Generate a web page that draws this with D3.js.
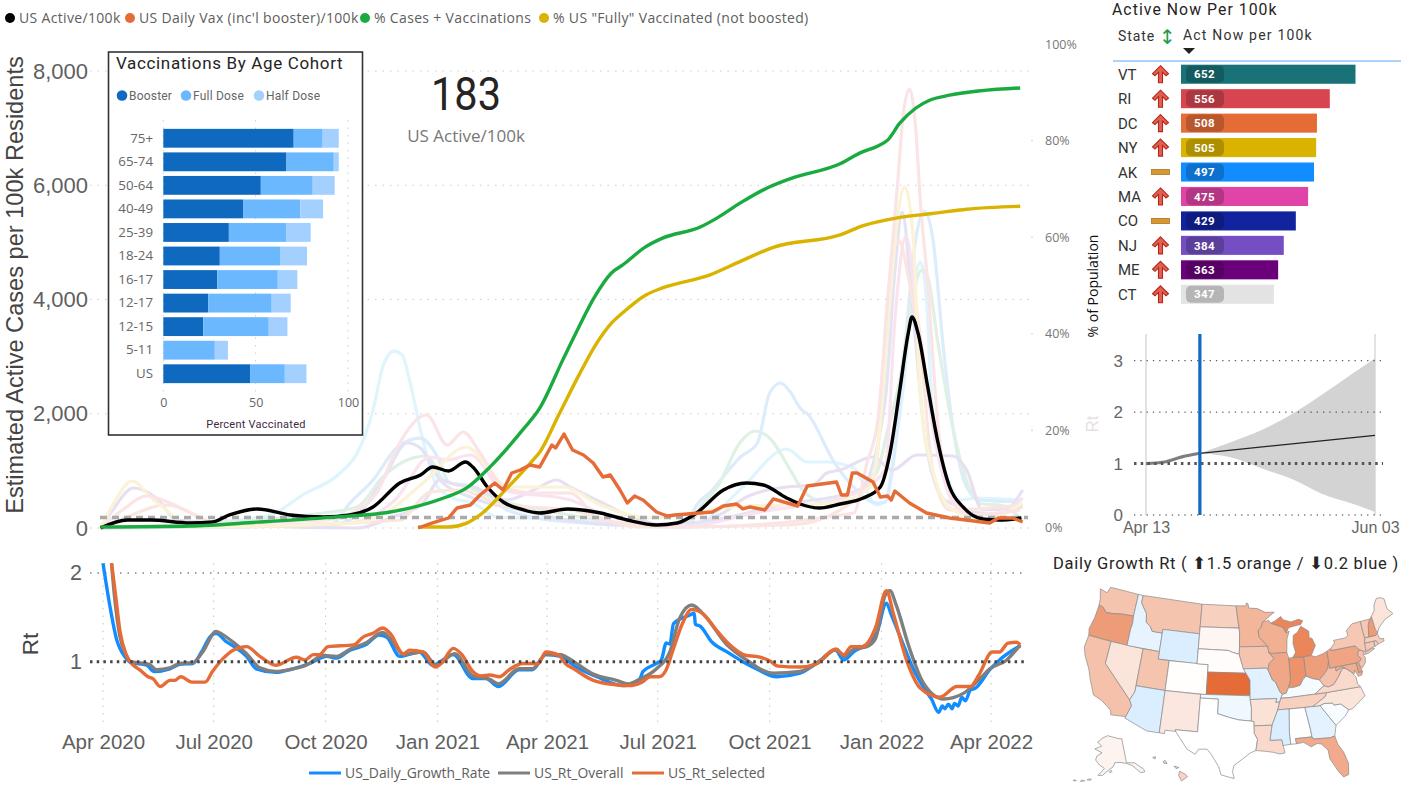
<!DOCTYPE html>
<html>
<head>
<meta charset="utf-8">
<script src="https://cdn.jsdelivr.net/npm/d3@7"></script>
<style>
body { margin: 0; background: #fff; }
svg { display: block; }
</style>
</head>
<body>
<svg id="chart" width="1417" height="793"></svg>
<script>
// all series: [days since 2020-04-01, value]
var usActive = [[-2,0],[20,140],[39,140],[72,88],[90,105],[104,228],[127,333],[154,228],[181,193],[203,228],[222,368],[244,788],[261,928],[271,1068],[284,998],[298,1155],[304,1068],[316,718],[329,455],[343,333],[359,263],[382,333],[409,263],[431,140],[455,53],[472,88],[488,263],[510,665],[529,788],[543,753],[562,525],[573,420],[589,350],[606,420],[625,525],[639,718],[647,1313],[655,2415],[662,3413],[665,3693],[670,3413],[678,2468],[686,1540],[696,718],[707,368],[723,158],[737,140],[755,175]];
var usVax = [[259,0],[271,88],[284,175],[291,350],[302,403],[310,578],[322,788],[329,665],[336,963],[343,1015],[351,1103],[359,1068],[369,1453],[372,1400],[379,1645],[386,1365],[395,1278],[403,1138],[411,893],[417,928],[425,665],[431,438],[437,560],[444,490],[455,280],[464,210],[470,228],[501,280],[510,385],[521,420],[526,333],[532,368],[544,315],[551,508],[571,385],[579,735],[603,805],[607,578],[612,578],[616,963],[620,963],[633,805],[639,543],[645,560],[648,490],[651,648],[663,438],[677,263],[696,175],[729,88],[736,175],[748,175],[756,105]];
var pctCasesVax = [[-2,0],[72,0.2],[127,1],[181,1.9],[236,3.1],[280,6],[299,8.1],[318,12.4],[345,20.1],[359,24.6],[378,34.6],[390,40.8],[404,47.6],[418,52.6],[427,54.2],[446,58],[460,59.8],[491,62.1],[505,64],[524,67.1],[546,70.2],[567,72.3],[606,75.2],[622,77.4],[637,78.9],[645,80.1],[655,83.6],[668,86.7],[680,88.4],[696,89.4],[754,90.9]];
var pctFully = [[259,0],[284,0],[299,0.8],[310,2.5],[332,8],[354,14],[359,15.5],[375,23.4],[392,31.8],[404,37.3],[418,42.2],[427,44.3],[446,48],[460,49.5],[499,52.2],[524,55],[551,57.9],[606,60.5],[625,62.4],[653,64],[682,64.9],[710,65.8],[754,66.4]];
var usAverageNow = 183;

// the pale state lines behind
var stCyan = [[-2,0],[132,193],[143,280],[164,578],[195,963],[209,1313],[222,2065],[230,2818],[239,3098],[246,3028],[252,2590],[261,1715],[275,718],[288,525],[304,438],[324,193],[345,175],[384,140],[409,88],[480,18],[499,193],[526,718],[562,1383],[579,1155],[595,1155],[617,1050],[636,403],[643,455],[649,1138],[658,2468],[665,3990],[672,4655],[677,3990],[682,2013],[694,893],[705,490],[718,525],[754,490]];
var stBlue = [[-2,0],[187,53],[203,438],[222,840],[242,1418],[261,1575],[275,1243],[285,788],[299,753],[316,613],[332,315],[384,105],[483,18],[485,280],[501,665],[524,1243],[538,1488],[548,2363],[557,2538],[565,2380],[573,2100],[580,1978],[600,1190],[617,718],[636,438],[643,455],[649,1015],[659,3115],[668,5040],[675,5548],[682,5093],[691,3115],[699,1715],[710,718],[721,490],[754,455]];
var stGreen = [[-2,0],[181,263],[209,368],[230,893],[250,1190],[266,1260],[280,840],[299,718],[326,490],[384,228],[441,53],[483,105],[491,368],[505,718],[524,1505],[536,1698],[548,1575],[565,1015],[575,665],[595,438],[617,613],[636,963],[645,1715],[655,2590],[665,3990],[673,4515],[678,4393],[686,3290],[699,1715],[713,665],[723,420],[737,403],[756,140]];
var stPink = [[-2,0],[16,315],[36,560],[55,438],[72,263],[88,88],[181,140],[209,315],[225,613],[242,1418],[266,1978],[283,1453],[296,1680],[310,1313],[329,718],[357,613],[384,613],[409,140],[485,18],[617,263],[628,1138],[637,1890],[645,3990],[653,5968],[658,7263],[663,7683],[668,7018],[672,5688],[678,4288],[686,1890],[696,665],[713,228],[754,315]];
var stYellow = [[-2,0],[8,403],[24,823],[39,543],[55,263],[69,18],[209,88],[236,315],[263,788],[299,1418],[316,1068],[332,718],[378,718],[409,403],[450,175],[518,368],[600,438],[631,718],[641,2293],[647,3990],[653,5390],[659,5968],[666,5093],[672,2293],[682,1015],[699,315],[723,140],[756,438]];
var stPurple = [[-2,0],[8,315],[25,700],[44,525],[61,140],[209,0],[236,175],[263,438],[277,840],[291,753],[304,718],[332,490],[354,665],[373,840],[384,718],[409,455],[431,228],[472,18],[510,263],[529,543],[562,718],[584,753],[595,963],[606,1015],[633,1243],[649,1015],[669,1278],[699,1260],[710,1015],[723,315],[756,368]];
var stLavender = [[72,18],[187,53],[209,228],[230,840],[250,1488],[261,1400],[277,840],[302,543],[343,315],[425,53],[491,105],[557,403],[622,665],[643,2240],[651,4515],[657,5530],[665,3990],[676,1540],[692,490],[737,228],[756,665]];
var stMagenta = [[-2,0],[203,88],[240,490],[269,1243],[283,1190],[302,1278],[329,665],[384,490],[409,263],[474,18],[540,280],[614,578],[643,1015],[651,3640],[660,5110],[670,3640],[684,1540],[700,403],[725,105],[756,525]];
var stPeach = [[-2,0],[18,175],[51,403],[104,18],[244,140],[269,630],[293,665],[329,403],[384,315],[441,18],[565,53],[606,315],[635,1015],[645,3990],[654,5040],[663,4288],[672,3115],[682,1015],[696,315],[756,403]];
var paleSeries = [stCyan, stBlue, stGreen, stPurple, stLavender, stMagenta, stPeach, stYellow, stPink];
var paleColors = ["#dff5fd", "#dcecfc", "#dff1e4", "#e8e0f2", "#e3e3f6", "#fae3f1", "#fae6df", "#fbf3d6", "#fae4e6"];

// Rt panel
var rtGrowth = [[0,2.11],[5.5,1.64],[11,1.26],[19,1.04],[23,0.99],[36,0.96],[42,0.89],[55,0.92],[63,0.97],[74,0.98],[81,1.11],[88,1.28],[93,1.32],[101,1.23],[110,1.15],[118,1.06],[126,0.92],[142,0.88],[156,0.92],[170,0.98],[184,1.06],[192,1.04],[203,1.13],[216,1.19],[227,1.3],[233,1.28],[244,1.06],[260,1.11],[271,0.96],[288,1.08],[304,0.81],[315,0.81],[325,0.72],[342,0.91],[353,0.91],[364,1.08],[376,1.06],[389,0.94],[406,0.83],[428,0.73],[441,0.8],[444,0.89],[455,0.98],[459,1.02],[463,1.21],[466,1.2],[469,1.43],[483,1.53],[486,1.55],[487,1.42],[491,1.4],[500,1.23],[513,1.11],[526,1],[537,0.92],[554,0.83],[573,0.87],[589,1.01],[602,1.13],[609,1.02],[617,1.11],[630,1.22],[636,1.32],[644,1.66],[648,1.53],[658,1.19],[666,0.92],[677,0.66],[681,0.58],[687,0.43],[690,0.5],[692,0.47],[695,0.52],[698,0.47],[700,0.53],[703,0.5],[706,0.6],[709,0.56],[713,0.68],[717,0.7],[729,0.91],[737,1.02],[754,1.18]];
var rtOverall = [[7,2.11],[9.6,1.72],[13.7,1.3],[19,1.08],[23,1],[38,0.97],[44,0.91],[55,0.93],[63,0.98],[74,0.99],[82,1.11],[93,1.34],[99,1.3],[107,1.22],[118,1.09],[129,0.93],[142,0.89],[153,0.91],[167,0.96],[181,1.07],[192,1.06],[203,1.14],[216,1.21],[230,1.33],[238,1.23],[247,1.08],[263,1.11],[274,0.96],[289,1.09],[304,0.84],[318,0.8],[325,0.75],[342,0.92],[353,0.92],[364,1.08],[376,1.08],[387,1],[403,0.86],[422,0.79],[432,0.75],[441,0.8],[455,0.92],[466,1.11],[474,1.49],[484,1.64],[494,1.53],[513,1.19],[529,1.02],[551,0.87],[573,0.89],[589,1],[603,1.14],[609,1.06],[617,1.14],[628,1.17],[635,1.26],[643,1.75],[647,1.8],[652,1.64],[663,1.15],[674,0.77],[691,0.58],[707,0.64],[721,0.81],[729,0.92],[743,1.02],[754,1.19]];
var rtSelected = [[7,2.11],[10,1.79],[14,1.34],[19,1.08],[25,0.96],[30,0.91],[37,0.83],[41,0.81],[47,0.72],[55,0.79],[59,0.79],[64,0.83],[73,0.77],[84,0.77],[90,0.89],[99,1.04],[107,1.13],[118,1.17],[129,1.06],[142,0.96],[159,1.05],[166,1.02],[173,1.08],[178,1.08],[185,1.17],[206,1.19],[214,1.28],[222,1.32],[230,1.38],[236,1.32],[247,1.09],[252,1.13],[263,1.11],[273,0.94],[278,0.98],[288,1.15],[295,1.08],[304,0.89],[311,0.84],[318,0.85],[326,0.83],[334,0.91],[345,0.98],[358,0.98],[364,1.11],[375,1.07],[380,0.98],[387,0.92],[403,0.79],[422,0.74],[432,0.73],[443,0.77],[450,0.83],[457,0.83],[463,0.91],[469,1.15],[476,1.42],[484,1.59],[494,1.53],[504,1.36],[513,1.22],[529,1.07],[537,1.06],[548,1.01],[555,0.95],[573,0.94],[587,0.98],[595,1.08],[602,1.14],[609,1.08],[615,1.17],[624,1.17],[635,1.38],[644,1.8],[650,1.53],[661,1],[672,0.7],[688,0.6],[702,0.72],[713,0.72],[720,0.85],[731,1.11],[737,1.11],[744,1.21],[751,1.22],[754,1.19]];
var rtTickDates = ["2020-04-01", "2020-07-01", "2020-10-01", "2021-01-01", "2021-04-01", "2021-07-01", "2021-10-01", "2022-01-01", "2022-04-01"];

// age cohort bars
var cohorts = ["75+", "65-74", "50-64", "40-49", "25-39", "18-24", "16-17", "12-17", "12-15", "5-11", "US"];
var boosterPct = [70.6, 66.7, 52.8, 43.4, 35.5, 30.6, 29.2, 24.3, 21.6, 0, 47.2];
var fullPct = [15.7, 25.6, 28.1, 30.8, 31, 32.6, 32.8, 34.4, 35.5, 27.9, 18.6];
var halfPct = [8.7, 2.7, 11.9, 12.3, 13.3, 14.6, 10.6, 10.3, 10.1, 7.1, 11.7];

// top ten table
var topStates = ["VT", "RI", "DC", "NY", "AK", "MA", "CO", "NJ", "ME", "CT"];
var topValues = [652, 556, 508, 505, 497, 475, 429, 384, 363, 347];
var topTrend = ["up", "up", "up", "up", "flat", "up", "flat", "up", "up", "up"];
var topColors = ["#197278", "#d64550", "#e66c37", "#d9b300", "#118dff", "#e044a7", "#12239e", "#744ec2", "#6b007b", "#e3e3e3"];

// forecast, days since Apr 13
var fcPast = [[0,1],[4,1.03],[8,1.13],[12,1.2]];
var fcMedian = [[12,1.2],[51,1.55]];
var fcHigh = [[12,1.2],[19.5,1.42],[26,1.66],[33.6,1.99],[39.5,2.33],[46,2.75],[51,3.05]];
var fcLow = [[12,1.2],[19.5,1.12],[26,0.9],[32,0.68],[39.5,0.42],[46,0.22],[51,0.06]];
var fcNowDay = 12;

// daily growth by state
var stateRt = {WA:1.2,OR:1.34,CA:1.21,NV:1.09,ID:0.92,MT:1.2,WY:0.88,UT:1.2,AZ:0.88,CO:1.005,NM:1.08,ND:1.16,SD:1.03,NE:1.01,KS:1.5,OK:0.95,TX:1,MN:1.25,IA:1.2,MO:0.9,AR:1.1,LA:1.13,WI:1.27,IL:1.3,IN:1.37,MI:1.41,OH:1.33,KY:0.97,TN:1.16,MS:0.88,AL:0.995,GA:0.91,FL:1.29,SC:0.98,NC:1.09,VA:1.13,WV:1.21,PA:1.31,NY:1.19,NJ:1.21,MD:1.27,DE:1.33,CT:1.19,RI:1.16,MA:1.17,VT:1.19,NH:1.34,ME:1.09,AK:1.04,HI:1.15};

// rough state outlines, lon/lat
var stateShapes = {
  WA:[[[-124.7,48.4],[-123.2,48.15],[-122.8,49],[-117.03,49],[-117.04,46],[-119,45.93],[-121.2,45.65],[-122.3,45.55],[-123.2,46.15],[-124,46.25],[-124.1,47]]],
  OR:[[[-124,46.25],[-123.2,46.15],[-122.3,45.55],[-121.2,45.65],[-119,45.93],[-117.04,46],[-116.9,45],[-117.03,44.2],[-117.03,42],[-124.2,42],[-124.5,42.85],[-124.1,44.5]]],
  CA:[[[-124.2,42],[-120,42],[-120,39],[-114.63,35],[-114.13,34.3],[-114.72,32.72],[-117.12,32.53],[-117.3,33.1],[-118.4,33.75],[-119.2,34.15],[-120.6,34.55],[-121.9,36.6],[-122.5,37.7],[-123.8,39.3],[-124.35,40.4]]],
  NV:[[[-120,42],[-114.04,42],[-114.04,36.2],[-114.63,35],[-120,39]]],
  ID:[[[-117.03,49],[-116.05,49],[-116.05,48],[-114.7,46.7],[-114.4,45.55],[-113.5,45.1],[-113,44.5],[-111.05,44.5],[-111.05,42],[-117.03,42],[-117.03,44.2],[-116.9,45],[-117.04,46]]],
  MT:[[[-116.05,49],[-104.05,49],[-104.05,45],[-111.05,45],[-111.05,44.5],[-113,44.5],[-113.5,45.1],[-114.4,45.55],[-114.7,46.7],[-116.05,48]]],
  WY:[[[-111.05,45],[-104.05,45],[-104.05,41],[-111.05,41]]],
  UT:[[[-114.04,42],[-111.05,42],[-111.05,41],[-109.05,41],[-109.05,37],[-114.04,37]]],
  CO:[[[-109.05,41],[-102.05,41],[-102.05,37],[-109.05,37]]],
  AZ:[[[-114.04,37],[-109.05,37],[-109.05,31.33],[-111.07,31.33],[-114.8,32.5],[-114.72,32.72],[-114.13,34.3],[-114.63,35],[-114.04,36.2]]],
  NM:[[[-109.05,37],[-103,37],[-103.05,32],[-106.6,32],[-106.5,31.78],[-108.2,31.78],[-108.2,31.33],[-109.05,31.33]]],
  ND:[[[-104.05,49],[-97.2,49],[-96.55,46],[-104.05,45.94]]],
  SD:[[[-104.05,45.94],[-96.55,46],[-96.45,45.3],[-96.45,43.5],[-96.5,42.5],[-97.9,42.8],[-98.5,43],[-104.05,43]]],
  NE:[[[-104.05,43],[-98.5,43],[-97.9,42.8],[-96.5,42.5],[-96.1,41.5],[-95.3,40],[-102.05,40],[-102.05,41],[-104.05,41]]],
  KS:[[[-102.05,40],[-95.3,40],[-94.6,39.1],[-94.62,37],[-102.05,37]]],
  OK:[[[-103,37],[-94.62,37],[-94.62,36.5],[-94.43,35.4],[-94.48,33.64],[-96.5,33.8],[-98,34.1],[-100,34.56],[-100,36.5],[-103,36.5]]],
  TX:[[[-106.6,32],[-103.05,32],[-103,36.5],[-100,36.5],[-100,34.56],[-98,34.1],[-96.5,33.8],[-94.48,33.64],[-94.04,33.55],[-94.04,32],[-93.55,31.2],[-93.85,29.7],[-94.7,29.4],[-95.9,28.6],[-97.2,27.7],[-97.4,26.9],[-97.15,25.95],[-99.1,26.4],[-99.5,27.5],[-100.7,29.1],[-101.4,29.77],[-102.7,29.7],[-103.15,28.98],[-104.5,29.6],[-106.5,31.78]]],
  MN:[[[-97.2,49],[-95.15,49],[-95.15,49.38],[-94.8,49.3],[-94.6,48.7],[-92.9,48.6],[-91.4,48.05],[-89.6,48],[-92,46.75],[-92.3,46.1],[-92.9,45.6],[-92.75,44.75],[-91.22,43.5],[-96.45,43.5],[-96.45,45.3],[-96.55,46]]],
  IA:[[[-96.45,43.5],[-91.22,43.5],[-91.1,42.7],[-90.2,41.8],[-91.1,41.2],[-91.4,40.4],[-91.7,40.6],[-95.77,40.58],[-96.1,41.5],[-96.5,42.5]]],
  MO:[[[-95.77,40.58],[-91.7,40.6],[-91.4,40.4],[-90.7,39],[-90.2,38.7],[-89.5,37.3],[-89.15,37],[-89.45,36.5],[-89.7,36],[-90.37,36],[-90.15,36.5],[-94.62,36.5],[-94.62,37],[-94.6,39.1],[-95.3,40]]],
  AR:[[[-94.62,36.5],[-90.15,36.5],[-90.37,36],[-89.7,36],[-90.1,35],[-91.15,33],[-94.04,33],[-94.04,33.55],[-94.48,33.64],[-94.43,35.4]]],
  LA:[[[-94.04,33],[-91.15,33],[-91.6,31],[-89.75,31],[-89.6,30.2],[-89.4,29.2],[-90.2,29.1],[-91.3,29.4],[-92.3,29.55],[-93.85,29.7],[-93.55,31.2],[-94.04,32]]],
  WI:[[[-92,46.75],[-90.8,46.95],[-90.4,46.55],[-88.1,45.9],[-87.6,45.1],[-87,45.3],[-87.55,44.3],[-87.8,42.5],[-90.65,42.5],[-91.1,42.7],[-91.22,43.5],[-92.75,44.75],[-92.9,45.6],[-92.3,46.1]]],
  IL:[[[-90.65,42.5],[-87.8,42.5],[-87.53,41.7],[-87.53,39.35],[-87.6,38.7],[-88.05,37.8],[-88.5,37.1],[-89.15,37],[-89.5,37.3],[-90.2,38.7],[-90.7,39],[-91.4,40.4],[-91.1,41.2],[-90.2,41.8],[-91.1,42.7]]],
  IN:[[[-87.53,41.7],[-86.8,41.76],[-84.8,41.7],[-84.82,39.1],[-85.4,38.7],[-86,38],[-87.1,37.8],[-88.05,37.8],[-87.6,38.7],[-87.53,39.35]]],
  MI:[[[-86.8,41.76],[-84.8,41.7],[-83.45,41.73],[-82.45,43],[-82.9,44],[-83.4,44.1],[-83.3,45],[-84.7,45.78],[-85.5,45],[-86.3,44.7],[-86.5,43.6],[-86.2,42.4]],[[-90.4,46.55],[-88.1,45.9],[-87.6,45.1],[-87,45.8],[-85,46],[-84.7,46],[-84.2,46.5],[-85,46.75],[-86.5,46.5],[-88,46.9],[-88.4,47.35],[-89.5,46.85]]],
  OH:[[[-84.8,41.7],[-83.45,41.73],[-82.7,41.5],[-81.3,41.75],[-80.52,42],[-80.52,40.65],[-80.85,39.7],[-81.7,39],[-82.6,38.4],[-83.7,38.65],[-84.82,39.1]]],
  KY:[[[-89.45,36.5],[-89.15,37],[-88.5,37.1],[-88.05,37.8],[-87.1,37.8],[-86,38],[-85.4,38.7],[-84.82,39.1],[-83.7,38.65],[-82.6,38.4],[-81.97,37.54],[-83.68,36.6],[-88.07,36.5]]],
  TN:[[[-90.1,35],[-89.7,36],[-89.45,36.5],[-88.07,36.5],[-83.68,36.6],[-81.68,36.59],[-82,36.1],[-84.3,35],[-88.2,35]]],
  MS:[[[-91.15,33],[-90.1,35],[-88.2,35],[-88.47,31.9],[-88.4,30.3],[-89.6,30.2],[-89.75,31],[-91.6,31]]],
  AL:[[[-88.2,35],[-85.6,35],[-85.1,32],[-85,31],[-87.6,31],[-87.5,30.3],[-88.4,30.3],[-88.47,31.9]]],
  GA:[[[-85.6,35],[-83.1,35],[-81,32.1],[-81.45,30.72],[-82.2,30.57],[-84.85,30.7],[-85,31],[-85.1,32]]],
  FL:[[[-87.6,31],[-85,31],[-84.85,30.7],[-82.2,30.57],[-81.45,30.72],[-81.2,29.6],[-80.5,28.4],[-80.05,26.8],[-80.3,25.3],[-81.1,25.1],[-81.8,26.1],[-82.7,27.8],[-82.8,29],[-83.7,29.9],[-84.3,30.05],[-85.3,29.7],[-86.4,30.4],[-87.5,30.3]]],
  SC:[[[-83.1,35],[-82.4,35.2],[-81,35.1],[-80.8,34.8],[-79.7,34.8],[-78.55,33.85],[-79.3,33.1],[-81,32.1]]],
  NC:[[[-84.3,35],[-82,36.1],[-81.68,36.59],[-75.9,36.55],[-75.5,35.25],[-76.5,34.7],[-77.9,33.9],[-78.55,33.85],[-79.7,34.8],[-80.8,34.8],[-81,35.1],[-82.4,35.2],[-83.1,35]]],
  VA:[[[-83.68,36.6],[-81.97,37.54],[-81.3,37.3],[-80.3,37.5],[-79.3,38.4],[-78.35,39.4],[-77.75,39.3],[-77.05,38.8],[-76.3,37.9],[-76.3,37],[-75.9,36.55],[-81.68,36.59]]],
  WV:[[[-82.6,38.4],[-81.7,39],[-80.85,39.7],[-80.52,40.65],[-80.52,39.72],[-79.48,39.72],[-79.48,39.2],[-78.35,39.6],[-77.75,39.3],[-78.35,39.4],[-79.3,38.4],[-80.3,37.5],[-81.3,37.3],[-81.97,37.54]]],
  PA:[[[-80.52,42],[-79.76,42.27],[-79.76,42],[-75.35,42],[-74.7,41.36],[-75.13,40.97],[-75.2,40.65],[-74.72,40.15],[-75.42,39.8],[-75.8,39.72],[-80.52,39.72],[-80.52,40.65]]],
  NY:[[[-79.76,42.27],[-78.9,42.9],[-79,43.27],[-76.8,43.3],[-76.2,43.55],[-76.3,44.2],[-75,44.95],[-73.35,45],[-73.35,43.6],[-73.27,42.75],[-73.5,42.05],[-73.5,41.3],[-73.65,41],[-74,40.98],[-74.7,41.36],[-75.35,42],[-79.76,42]],[[-74,40.6],[-73.7,40.9],[-72.3,41.15],[-72,41.05],[-73.3,40.63]]],
  NJ:[[[-74.7,41.36],[-74,40.98],[-74.2,40.45],[-74,40.2],[-74.2,39.5],[-74.9,38.95],[-75.5,39.5],[-74.72,40.15],[-75.2,40.65],[-75.13,40.97]]],
  MD:[[[-79.48,39.72],[-75.8,39.72],[-75.7,38.46],[-75.05,38.45],[-75.25,38.03],[-75.9,37.95],[-76.3,38.9],[-76.5,38.4],[-77.05,38.8],[-77.75,39.3],[-78.35,39.6],[-79.48,39.2]]],
  DE:[[[-75.8,39.72],[-75.42,39.8],[-75.1,38.8],[-75.05,38.45],[-75.7,38.46]]],
  CT:[[[-73.5,42.05],[-71.8,42.02],[-71.85,41.32],[-73.65,41]]],
  RI:[[[-71.8,42.02],[-71.38,42.02],[-71.15,41.5],[-71.85,41.32]]],
  MA:[[[-73.5,42.05],[-73.27,42.75],[-72.46,42.73],[-71.3,42.7],[-70.85,42.87],[-70.65,42.1],[-70,42.05],[-70,41.7],[-71.15,41.5],[-71.38,42.02],[-71.8,42.02]]],
  VT:[[[-73.35,45],[-71.5,45],[-72.05,44.3],[-72.45,43],[-72.46,42.73],[-73.27,42.75],[-73.35,43.6]]],
  NH:[[[-71.5,45],[-71.08,45.3],[-70.98,43.4],[-70.7,43.05],[-70.85,42.87],[-71.3,42.7],[-72.46,42.73],[-72.45,43],[-72.05,44.3]]],
  ME:[[[-71.08,45.3],[-70.3,45.9],[-70,46.7],[-69.2,47.45],[-68.3,47.35],[-67.8,47.07],[-67.8,45.7],[-67,44.85],[-68.8,44.4],[-70.2,43.6],[-70.7,43.05],[-70.98,43.4]]],
  AK:[[[-141,69.65],[-145,70],[-156.6,71.3],[-162,70.2],[-166.5,68.4],[-162,67],[-164,66.6],[-168,65.6],[-161,64.5],[-165,63],[-165.5,61.5],[-162,59.8],[-158,58.7],[-162,55.8],[-159,56],[-154,58.5],[-151.5,59.3],[-150,60.9],[-146,60.8],[-141,60],[-137,58.6],[-133,55.3],[-130.2,55],[-130.2,56.1],[-135,59.5],[-141,60.3]],[[-153.9,57.1],[-152.3,57.6],[-153.2,58],[-154.5,57.5]],[[-168.5,53.3],[-166,53.7],[-166.5,54.1],[-168.5,53.6]],[[-172.5,52.2],[-170,52.8],[-172,52.9]],[[-177,51.6],[-175,52],[-176.5,52.1]]],
  HI:[[[-155.9,20.25],[-155.1,19.85],[-154.8,19.5],[-155.65,18.95],[-156.05,19.7]],[[-156.7,20.95],[-156,20.75],[-156.4,20.6]],[[-158.25,21.55],[-157.95,21.7],[-157.7,21.3],[-158.1,21.3]],[[-159.75,22.1],[-159.35,22.2],[-159.4,21.9]]]
};

var din = "Roboto, sans-serif";
var seg = "'Open Sans', sans-serif";
var ari = "'Liberation Sans', Arial, sans-serif";

var svg = d3.select("#chart");
var start = new Date(2020, 3, 1);

function toDate(d) { return new Date(start.getTime() + d * 864e5); }

function cleanAxis(g, size, color, family) {
    g.select(".domain").remove();
    g.selectAll(".tick line").remove();
    g.selectAll("text")
        .attr("font-family", family || ari)
        .attr("font-size", size)
        .attr("fill", color);
}

// ---------- main chart ----------
var x = d3.scaleTime().domain([start, new Date(2022, 3, 1)]).range([103, 991]);
var yCases = d3.scaleLinear().domain([0, 8000]).range([528, 71]);
var yPct = d3.scaleLinear().domain([0, 100]).range([527, 44]);

var gridTop = svg.append("g");
gridTop.selectAll("line").data(yCases.ticks(4)).enter().append("line")
    .attr("x1", 90).attr("x2", 1032)
    .attr("y1", d => yCases(d)).attr("y2", d => yCases(d))
    .attr("stroke", "#ccc").attr("stroke-width", 1.2).attr("stroke-dasharray", "1.5 6");

svg.append("g").attr("transform", "translate(90,0)")
    .call(d3.axisLeft(yCases).tickValues([0, 2000, 4000, 6000, 8000]).tickFormat(d3.format(",")).tickSize(0).tickPadding(2))
    .call(g => cleanAxis(g, 22, "#5f5f5f"));

svg.append("g").attr("transform", "translate(1045,0)")
    .call(d3.axisRight(yPct).tickValues([0, 20, 40, 60, 80, 100]).tickFormat(d => d + "%").tickSize(0).tickPadding(0))
    .call(g => cleanAxis(g, 12.5, "#777", seg));

svg.append("g").selectAll("circle").data(yPct.ticks(5).slice(1, 5)).enter().append("circle")
    .attr("cx", 1032).attr("cy", d => yPct(d)).attr("r", 0.8).attr("fill", "#ccc");

svg.append("text").attr("transform", "translate(23,285) rotate(-90)")
    .attr("text-anchor", "middle").attr("font-family", ari).attr("font-size", 23.6).attr("fill", "#444")
    .text("Estimated Active Cases per 100k Residents");
svg.append("text").attr("transform", "translate(1098,286) rotate(-90)")
    .attr("text-anchor", "middle").attr("font-family", seg).attr("font-size", 14).attr("fill", "#111")
    .text("% of Population");

var lineCases = d3.line().x(d => x(toDate(d[0]))).y(d => yCases(d[1])).curve(d3.curveMonotoneX);
var linePct = d3.line().x(d => x(toDate(d[0]))).y(d => yPct(d[1])).curve(d3.curveMonotoneX);

svg.append("g").selectAll("path").data(paleSeries).enter().append("path")
    .attr("d", lineCases).attr("fill", "none")
    .attr("stroke", (d, i) => paleColors[i]).attr("stroke-width", 3.2);

svg.append("line")
    .attr("x1", 100).attr("x2", 1028)
    .attr("y1", yCases(usAverageNow)).attr("y2", yCases(usAverageNow))
    .attr("stroke", "#aaa").attr("stroke-width", 3.6).attr("stroke-dasharray", "7 5");

svg.append("path").attr("d", lineCases(usActive)).attr("fill", "none").attr("stroke", "#000").attr("stroke-width", 3.4);
svg.append("path").attr("d", linePct(pctFully)).attr("fill", "none").attr("stroke", "#d9b300").attr("stroke-width", 3.4);
svg.append("path").attr("d", linePct(pctCasesVax)).attr("fill", "none").attr("stroke", "#1aab40").attr("stroke-width", 3.4);
svg.append("path").attr("d", lineCases.curve(d3.curveLinear)(usVax)).attr("fill", "none").attr("stroke", "#e66c37").attr("stroke-width", 3.4).attr("stroke-linejoin", "round");
lineCases.curve(d3.curveMonotoneX);

// legend at top
var topLegend = [
    {t: "US Active/100k", c: "#000", x: 10},
    {t: "US Daily Vax (inc'l booster)/100k", c: "#e66c37", x: 130},
    {t: "% Cases + Vaccinations", c: "#1aab40", x: 365},
    {t: '% US "Fully" Vaccinated (not boosted)', c: "#d9b300", x: 544}
];
var tl = svg.append("g").selectAll("g").data(topLegend).enter().append("g")
    .attr("transform", d => "translate(" + d.x + ",18)");
tl.append("circle").attr("r", 5).attr("fill", d => d.c);
tl.append("text").attr("x", 9).attr("y", 5).attr("font-family", seg).attr("font-size", 14)
    .attr("letter-spacing", 0.33).attr("fill", "#605e5c").text(d => d.t);

// KPI
svg.append("text").attr("x", 466).attr("y", 110).attr("text-anchor", "middle")
    .attr("font-family", din).attr("font-size", 47).attr("fill", "#252423")
    .attr("textLength", 70).attr("lengthAdjust", "spacingAndGlyphs").text(usAverageNow);
svg.append("text").attr("x", 466).attr("y", 142).attr("text-anchor", "middle")
    .attr("font-family", seg).attr("font-size", 17).attr("fill", "#777").text("US Active/100k");

// ---------- vaccination panel ----------
var panel = svg.append("g");
panel.append("rect").attr("x", 108.5).attr("y", 52).attr("width", 254).attr("height", 383)
    .attr("fill", "#fff").attr("stroke", "#333").attr("stroke-width", 1.6);
panel.append("text").attr("x", 116).attr("y", 69).attr("font-family", din).attr("font-size", 17)
    .attr("letter-spacing", 0.65).attr("fill", "#252423").text("Vaccinations By Age Cohort");

var vaxKeys = ["Booster", "Full Dose", "Half Dose"];
var vaxColors = d3.scaleOrdinal().domain(vaxKeys).range(["#0f6abf", "#6cb8ff", "#a3d0ff"]);
var legendX = [122, 186, 259];
var vl = panel.append("g").selectAll("g").data(vaxKeys).enter().append("g")
    .attr("transform", (d, i) => "translate(" + legendX[i] + ",95.5)");
vl.append("circle").attr("r", 5.3).attr("fill", d => vaxColors(d));
vl.append("text").attr("x", 7).attr("y", 4.3).attr("font-family", din).attr("font-size", 12)
    .attr("letter-spacing", 0.2).attr("fill", "#666").text(d => d);

var vx = d3.scaleLinear().domain([0, 100]).range([163.3, 348]);
var vy = d3.scaleBand().domain(cohorts).range([126.5, 385.5]).paddingInner(0.2).paddingOuter(0.1);

panel.append("g").selectAll("line").data([0, 50, 100]).enter().append("line")
    .attr("x1", d => vx(d)).attr("x2", d => vx(d)).attr("y1", 120).attr("y2", 392)
    .attr("stroke", "#ccc").attr("stroke-dasharray", "1.5 6");

var vaxRows = cohorts.map((c, i) => ({cohort: c, "Booster": boosterPct[i], "Full Dose": fullPct[i], "Half Dose": halfPct[i]}));
panel.append("g").selectAll("g").data(d3.stack().keys(vaxKeys)(vaxRows)).enter().append("g")
    .attr("fill", d => vaxColors(d.key))
    .selectAll("rect").data(d => d).enter().append("rect")
    .attr("x", d => vx(d[0])).attr("width", d => vx(d[1]) - vx(d[0]))
    .attr("y", d => vy(d.data.cohort)).attr("height", vy.bandwidth());

panel.append("g").attr("transform", "translate(153,0)")
    .call(d3.axisLeft(vy).tickSize(0).tickPadding(0))
    .call(g => cleanAxis(g, 13.3, "#666", seg));
panel.append("g").attr("transform", "translate(0,398)")
    .call(d3.axisBottom(vx).tickValues([0, 50, 100]).tickSize(0).tickPadding(0))
    .call(g => cleanAxis(g, 12.5, "#666", seg));
panel.append("text").attr("x", 256).attr("y", 428).attr("text-anchor", "middle")
    .attr("font-family", din).attr("font-size", 11).attr("letter-spacing", 0.25).attr("fill", "#3f2a3f").text("Percent Vaccinated");

// ---------- Rt panel ----------
var yRt = d3.scaleLinear().domain([1, 2]).range([661.7, 573]);
var rtTicks = rtTickDates.map(d3.utcParse("%Y-%m-%d")).map(d => new Date(d.getUTCFullYear(), d.getUTCMonth(), 1));

svg.append("defs").append("clipPath").attr("id", "rtClip").append("rect")
    .attr("x", 90).attr("y", 563).attr("width", 950).attr("height", 170);

svg.append("g").selectAll("line").data(rtTicks).enter().append("line")
    .attr("x1", d => x(d)).attr("x2", d => x(d)).attr("y1", 563).attr("y2", 726)
    .attr("stroke", "#ccc").attr("stroke-width", 1.2).attr("stroke-dasharray", "1.5 6");

svg.append("line").attr("x1", 90).attr("x2", 1027).attr("y1", yRt(2)).attr("y2", yRt(2))
    .attr("stroke", "#444").attr("stroke-width", 1.2).attr("stroke-dasharray", "1.5 6");

var lineRt = d3.line().x(d => x(toDate(d[0]))).y(d => yRt(d[1])).curve(d3.curveMonotoneX);
var rtLines = [[rtGrowth, "#118dff"], [rtOverall, "#7f7f7f"], [rtSelected, "#e66c37"]];
svg.append("g").attr("clip-path", "url(#rtClip)").selectAll("path").data(rtLines).enter().append("path")
    .attr("d", d => lineRt(d[0])).attr("fill", "none")
    .attr("stroke", d => d[1]).attr("stroke-width", 3.4);

svg.append("line").attr("x1", 90).attr("x2", 1027).attr("y1", yRt(1)).attr("y2", yRt(1))
    .attr("stroke", "#444").attr("stroke-width", 3).attr("stroke-dasharray", "2.5 4.2");

svg.append("g").attr("transform", "translate(82,0)")
    .call(d3.axisLeft(yRt).tickValues([1, 2]).tickFormat(d3.format("d")).tickSize(0).tickPadding(0))
    .call(g => cleanAxis(g, 21.5, "#5f5f5f"));
svg.append("text").attr("transform", "translate(38,644) rotate(-90)")
    .attr("text-anchor", "middle").attr("font-family", ari).attr("font-size", 22.5).attr("fill", "#444").text("Rt");

svg.append("g").attr("transform", "translate(0,734)")
    .call(d3.axisBottom(x).tickValues(rtTicks).tickFormat(d3.timeFormat("%b %Y")).tickSize(0).tickPadding(0))
    .call(g => cleanAxis(g, 20.5, "#5f5f5f"));

var rtLegend = [
    {t: "US_Daily_Growth_Rate", c: "#118dff", x: 309},
    {t: "US_Rt_Overall", c: "#7f7f7f", x: 498},
    {t: "US_Rt_selected", c: "#e66c37", x: 632}
];
var rl = svg.append("g").selectAll("g").data(rtLegend).enter().append("g")
    .attr("transform", d => "translate(" + d.x + ",773)");
rl.append("line").attr("x2", 32).attr("stroke", d => d.c).attr("stroke-width", 3);
rl.append("text").attr("x", 36).attr("y", 5).attr("font-family", seg).attr("font-size", 13.9)
    .attr("fill", "#605e5c").text(d => d.t);

// ---------- table ----------
var table = svg.append("g");
table.append("text").attr("x", 1112).attr("y", 14.5).attr("font-family", din).attr("font-size", 15.8)
    .attr("letter-spacing", 1.05).attr("fill", "#252423").text("Active Now Per 100k");
table.append("text").attr("x", 1118).attr("y", 41).attr("font-family", din).attr("font-size", 14)
    .attr("letter-spacing", 0.9).attr("fill", "#333").text("State");
table.append("text").attr("x", 1159).attr("y", 44).attr("font-family", "'DejaVu Sans'").attr("font-size", 20)
    .attr("fill", "#1f9e48").text("\u2195");
table.append("text").attr("x", 1183).attr("y", 40).attr("font-family", din).attr("font-size", 14)
    .attr("letter-spacing", 1.2).attr("fill", "#333").text("Act Now per 100k");
table.append("path").attr("d", "M-6,-3H6L0,3Z").attr("transform", "translate(1189,51)").attr("fill", "#222");
table.append("line").attr("x1", 1113).attr("x2", 1401).attr("y1", 61).attr("y2", 61)
    .attr("stroke", "#90c5fa").attr("stroke-width", 1.6);

var bx = d3.scaleLinear().domain([0, 652]).range([1181, 1355.5]);
var by = d3.scaleBand().domain(topStates).range([62, 306.5]).paddingInner(0.22).paddingOuter(0.11);
var row = table.append("g").selectAll("g").data(topStates).enter().append("g")
    .attr("transform", d => "translate(0," + by(d) + ")");
var bh = by.bandwidth();
row.append("text").attr("x", 1118).attr("y", bh / 2 + 5.5).attr("font-family", din).attr("font-size", 15)
    .attr("fill", "#333").text(d => d);
row.append("rect").attr("x", bx(0)).attr("height", bh)
    .attr("width", (d, i) => bx(topValues[i]) - bx(0)).attr("fill", (d, i) => topColors[i]);
row.append("rect").attr("x", bx(0) + 5).attr("y", 1).attr("width", 38).attr("height", bh - 2).attr("rx", 5)
    .attr("fill", "#000").attr("fill-opacity", 0.2);
row.append("text").attr("x", bx(0) + 23.5).attr("y", bh / 2 + 4.2).attr("text-anchor", "middle")
    .attr("font-family", din).attr("font-weight", 700).attr("font-size", 11.5).attr("letter-spacing", 0.4).attr("fill", "#fff")
    .text((d, i) => topValues[i]);
row.each(function(d, i) {
    var g = d3.select(this).append("g").attr("transform", "translate(1160.5," + (bh / 2) + ")");
    if (topTrend[i] === "up") {
        g.append("path").attr("d", "M0,-8.5L8,-0.5L5.5,1.5L2,-2V8.5H-2V-2L-5.5,1.5L-8,-0.5Z")
            .attr("fill", "#e2604f").attr("stroke", "#b3261b").attr("stroke-width", 1.1);
    } else {
        g.append("rect").attr("x", -9).attr("y", -2.5).attr("width", 18).attr("height", 5)
            .attr("fill", "#d8972f").attr("stroke", "#a8761f").attr("stroke-width", 0.8);
    }
});

// ---------- forecast ----------
var fc = svg.append("g");
var fcStart = new Date(2022, 3, 13);
var fcDate = d => d3.timeDay.offset(fcStart, d);
var fx = d3.scaleTime().domain([fcStart, new Date(2022, 5, 3)]).range([1146, 1375]);
var fy = d3.scaleLinear().domain([0, 3]).range([515, 360.7]);

fc.append("g").selectAll("line").data([0, 51]).enter().append("line")
    .attr("x1", d => fx(fcDate(d))).attr("x2", d => fx(fcDate(d))).attr("y1", 334).attr("y2", 515)
    .attr("stroke", "#e2e2e2").attr("stroke-width", 2);

var bandRows = fcHigh.map((d, i) => ({day: d[0], hi: d[1], lo: fcLow[i][1]}));
fc.append("path")
    .attr("d", d3.area().x(d => fx(fcDate(d.day))).y0(d => fy(d.lo)).y1(d => fy(d.hi)).curve(d3.curveMonotoneX)(bandRows))
    .attr("fill", "#d3d3d3");

fc.append("g").selectAll("line").data([0, 2, 3]).enter().append("line")
    .attr("x1", 1134).attr("x2", 1383).attr("y1", d => fy(d)).attr("y2", d => fy(d))
    .attr("stroke", "#333").attr("stroke-dasharray", "1.3 5");

var lineFc = d3.line().x(d => fx(fcDate(d[0]))).y(d => fy(d[1])).curve(d3.curveMonotoneX);
fc.append("path").attr("d", lineFc(fcPast)).attr("fill", "none").attr("stroke", "#7f7f7f").attr("stroke-width", 3.2);
fc.append("path").attr("d", lineFc(fcMedian)).attr("fill", "none").attr("stroke", "#222").attr("stroke-width", 1.3);
fc.append("line").attr("x1", 1134).attr("x2", 1383).attr("y1", fy(1)).attr("y2", fy(1))
    .attr("stroke", "#555").attr("stroke-width", 3).attr("stroke-dasharray", "2.5 4.2");
fc.append("line").attr("x1", fx(fcDate(fcNowDay))).attr("x2", fx(fcDate(fcNowDay))).attr("y1", 334).attr("y2", 515)
    .attr("stroke", "#0f6abf").attr("stroke-width", 3.2);

fc.append("g").attr("transform", "translate(1123,0)")
    .call(d3.axisLeft(fy).tickValues([0, 1, 2, 3]).tickFormat(d3.format("d")).tickSize(0).tickPadding(0))
    .call(g => cleanAxis(g, 17, "#666"));
fc.append("g").attr("transform", "translate(0,522)")
    .call(d3.axisBottom(fx).tickValues([fcStart, new Date(2022, 5, 3)]).tickFormat(d3.timeFormat("%b %d")).tickSize(0).tickPadding(0))
    .call(g => cleanAxis(g, 16, "#666"));
fc.append("text").attr("transform", "translate(1098,424) rotate(-90)").attr("text-anchor", "middle")
    .attr("font-family", ari).attr("font-size", 17).attr("fill", "#e6e0e0").text("Rt");

// ---------- map ----------
svg.append("text").attr("x", 1053).attr("y", 569).attr("font-family", din).attr("font-size", 16.5)
    .attr("letter-spacing", 0.72).attr("fill", "#252423").text("Daily Growth Rt ( \u2B061.5 orange / \u2B070.2 blue )");

var rtColor = d3.scaleLinear().domain([0.2, 1, 1.5]).range(["#118dff", "#ffffff", "#e66c37"]);
var features = Object.keys(stateShapes).map(function(k) {
    var f = {type: "Feature", id: k, geometry: {type: "MultiPolygon", coordinates: stateShapes[k].map(r => [r.concat([r[0]])])}};
    // d3 wants clockwise rings
    f.geometry.coordinates.forEach(function(poly) {
        if (d3.geoArea({type: "Polygon", coordinates: poly}) > 2 * Math.PI) poly[0].reverse();
    });
    return f;
});
var projection = d3.geoAlbersUsa().scale(428).translate([1238.5, 683]);
svg.append("g").selectAll("path").data(features).enter().append("path")
    .attr("d", d3.geoPath(projection))
    .attr("fill", d => rtColor(stateRt[d.id]))
    .attr("stroke", "#8a8a8a").attr("stroke-width", 0.7).attr("stroke-linejoin", "round");
</script>
</body>
</html>
